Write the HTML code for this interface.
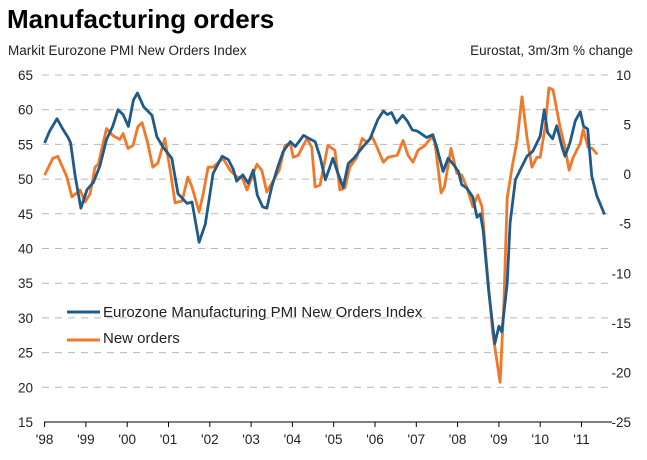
<!DOCTYPE html>
<html><head><meta charset="utf-8"><style>
body{margin:0;background:#fff;font-family:"Liberation Sans",Arial,sans-serif;}
svg text{font-family:"Liberation Sans",Arial,sans-serif;}
</style></head><body>
<svg id="chart" width="647" height="455" xmlns="http://www.w3.org/2000/svg">
<text x="7" y="28" font-size="26" font-weight="bold" fill="#000">Manufacturing orders</text>
<text x="8" y="55" font-size="13.5" fill="#222">Markit Eurozone PMI New Orders Index</text>
<text x="633" y="55" font-size="13.5" fill="#222" text-anchor="end">Eurostat, 3m/3m % change</text>
<g id="grid"></g><g id="axes"></g><g id="series"></g>
<g>
<line x1="67" y1="312" x2="100" y2="312" stroke="#1f5b8a" stroke-width="3"/>
<text x="103" y="317" font-size="15" fill="#222">Eurozone Manufacturing PMI New Orders Index</text>
<line x1="67" y1="340" x2="100" y2="340" stroke="#f07828" stroke-width="3"/>
<text x="103" y="343" font-size="15" fill="#222">New orders</text>
</g>
</svg>
<script>
const yearLabels=["'98","'99","'00","'01","'02","'03","'04","'05","'06","'07","'08","'09","'10","'11"];
const leftTicks=[15,20,25,30,35,40,45,50,55,60,65];
const rightTicks=[-25,-20,-15,-10,-5,0,5,10];
const pmiDates=[1998.0,1998.12,1998.3,1998.45,1998.57,1998.63,1998.74,1998.88,1999.03,1999.18,1999.34,1999.5,1999.65,1999.78,1999.9,2000.03,2000.15,2000.25,2000.4,2000.6,2000.72,2000.87,2001.08,2001.23,2001.45,2001.57,2001.74,2001.89,2002.08,2002.3,2002.45,2002.57,2002.65,2002.8,2002.93,2003.05,2003.15,2003.28,2003.38,2003.5,2003.65,2003.78,2003.95,2004.07,2004.27,2004.39,2004.55,2004.67,2004.8,2004.98,2005.1,2005.23,2005.35,2005.5,2005.7,2005.88,2006.07,2006.2,2006.3,2006.4,2006.52,2006.67,2006.79,2006.9,2007.03,2007.25,2007.4,2007.5,2007.65,2007.77,2007.9,2008.02,2008.1,2008.22,2008.37,2008.47,2008.55,2008.62,2008.75,2008.9,2009.0,2009.07,2009.2,2009.27,2009.4,2009.52,2009.68,2009.82,2010.0,2010.1,2010.18,2010.3,2010.4,2010.52,2010.6,2010.72,2010.85,2010.97,2011.05,2011.15,2011.25,2011.37,2011.56];
const pmiValues=[55.2,56.9,58.7,57.1,56,55.2,50.4,45.8,48.5,49.5,51.9,55.7,57.6,60,59.3,57.6,61.4,62.4,60.4,59.2,56.1,54.6,53,47.9,46.5,46.7,40.9,43.5,50.8,53.3,52.8,51.4,49.7,50.6,49.4,51.3,47.7,46,45.8,48.9,51.8,54,55.4,54.7,56.3,55.9,55.4,53.2,49.9,53,50.9,48.8,52.2,53.1,54.6,55.8,58.6,59.8,59.3,59.6,58.1,59.2,58.3,57.1,56.9,56,56.4,54.5,51.1,53,52.1,51.1,49.2,48.7,47.4,44.5,45,42.6,34,26.3,28.8,28,35,43.7,49.9,51.4,53.3,54,56.2,60,56.7,55.8,57.7,54.8,53.3,55.2,58.4,59.7,57.6,57.2,50.4,47.6,44.9];
const ordDates=[1998.0,1998.2,1998.32,1998.54,1998.66,1998.86,1998.98,1999.1,1999.22,1999.3,1999.5,1999.65,1999.82,1999.9,2000.02,2000.14,2000.26,2000.36,2000.5,2000.62,2000.74,2000.91,2001.04,2001.16,2001.33,2001.47,2001.57,2001.74,2001.84,2001.96,2002.08,2002.32,2002.49,2002.66,2002.78,2002.9,2003.02,2003.14,2003.26,2003.38,2003.68,2003.82,2003.95,2004.02,2004.14,2004.35,2004.47,2004.55,2004.67,2004.86,2005.03,2005.15,2005.27,2005.39,2005.56,2005.69,2005.81,2005.93,2006.05,2006.2,2006.32,2006.54,2006.68,2006.8,2006.92,2007.04,2007.21,2007.38,2007.45,2007.6,2007.68,2007.84,2007.98,2008.1,2008.23,2008.37,2008.49,2008.59,2008.7,2008.85,2009.03,2009.12,2009.2,2009.32,2009.44,2009.56,2009.68,2009.8,2009.92,2010.0,2010.12,2010.21,2010.31,2010.48,2010.6,2010.7,2010.8,2010.97,2011.04,2011.16,2011.26,2011.38];
const ordValues=[-0.1,1.6,1.8,-0.3,-2.3,-1.6,-2.8,-2.0,0.7,1.0,4.6,3.9,3.5,4.1,2.6,2.9,4.8,5.2,3.1,0.7,1.1,3.6,0.4,-2.9,-2.7,-0.3,-1.3,-3.8,-2.0,0.7,0.7,1.6,0.4,-0.3,-0.3,-1.6,-0.3,1.0,0.4,-1.8,0.4,2.9,3.1,1.7,1.9,3.6,2.7,-1.3,-1.1,2.9,2.4,-1.6,-1.4,0.7,1.7,3.6,3.2,3.8,2.7,1.2,1.7,1.9,3.4,1.9,1.2,2.4,2.9,3.8,3.2,-1.9,-1.3,2.6,0.1,-0.1,-1.4,-3.3,-2.1,-3.3,-9,-16,-21.0,-13,-2.4,0.7,3.4,7.8,3.7,0.7,1.7,1.7,4.8,8.7,8.5,4.8,2.7,0.4,1.7,3.1,4.5,2.7,2.6,2.0];
const NS='http://www.w3.org/2000/svg';
const X0=44.6,XS=41.3,PL=42,PR=612,YT=75,YB=422;
function xs(t){return X0+(t-1998)*XS;}
function yl(v){return YB-(v-15)/50*(YB-YT);}
function yr(v){return YB-(v+25)/35*(YB-YT);}
function mk(tag,attrs,parent){const e=document.createElementNS(NS,tag);for(const k in attrs)e.setAttribute(k,attrs[k]);parent.appendChild(e);return e;}
const grid=document.getElementById('grid'),axes=document.getElementById('axes'),ser=document.getElementById('series');
leftTicks.forEach(v=>{const y=yl(v);
 if(v>15){const g=mk('line',{x1:PL,x2:608,y1:y,y2:y,stroke:'#b8b8b8','stroke-width':1,'stroke-dasharray':'7,6'},grid);
 
 }
 const t=mk('text',{x:33,y:y+5,'font-size':13.5,'text-anchor':'end',fill:'#222'},axes);t.textContent=v;
 
 });
rightTicks.forEach(v=>{const t=mk('text',{x:631,y:yr(v)+5,'font-size':13.5,'text-anchor':'end',fill:'#222'},axes);t.textContent=v;
 
 });
const ax=mk('line',{x1:44,x2:PR,y1:YB,y2:YB,stroke:'#000','stroke-width':1},axes);


yearLabels.forEach((l,i)=>{const x=xs(1998+i);
 mk('line',{x1:x,x2:x,y1:YB,y2:YB+5,stroke:'#000'},axes);
 const t=mk('text',{x:x,y:444,'font-size':13.5,'text-anchor':'middle',fill:'#222'},axes);t.textContent=l;
 
 });
function line(dates,vals,ys,color,name){let d='';dates.forEach((t,i)=>{d+=(i?'L':'M')+xs(t).toFixed(1)+','+ys(vals[i]).toFixed(1);});
 const p=mk('path',{d:d,fill:'none',stroke:color,'stroke-width':2.8,'stroke-linejoin':'round'},ser);
 
 }
line(ordDates,ordValues,yr,'#f07828','new-orders-line');
line(pmiDates,pmiValues,yl,'#1f5b8a','pmi-new-orders-line');
</script>
</body></html>
